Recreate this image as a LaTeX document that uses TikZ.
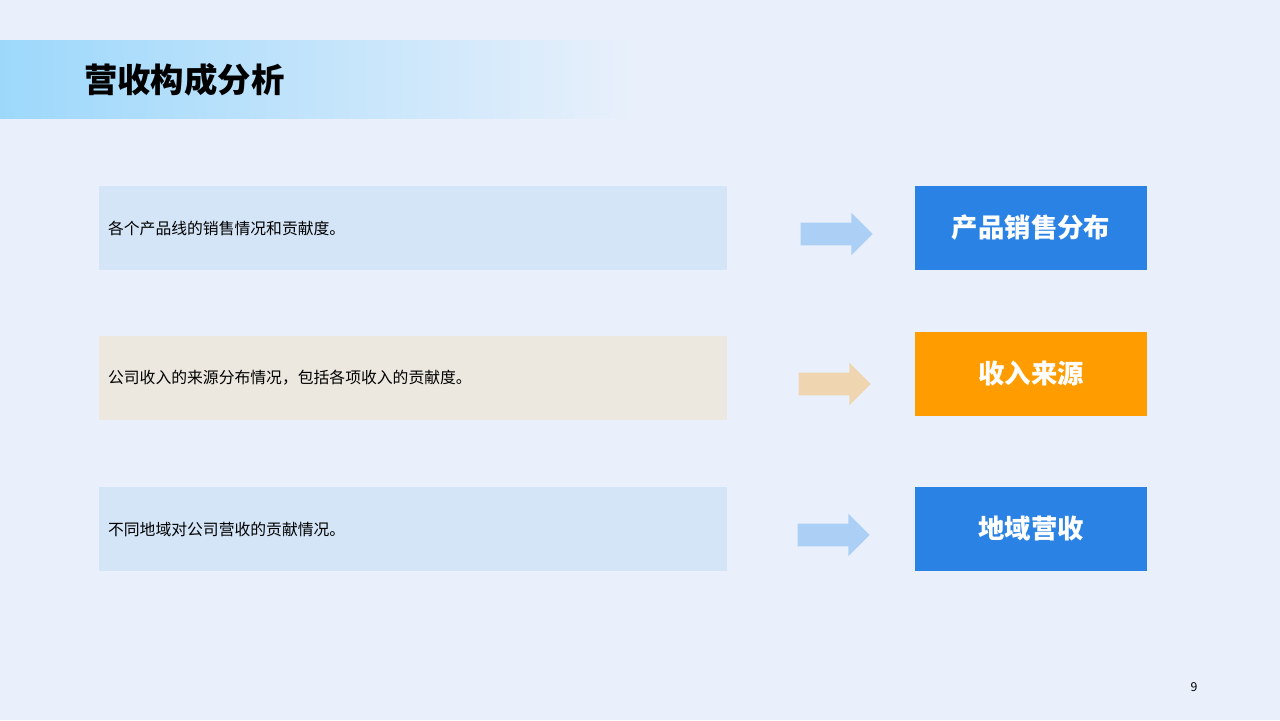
\documentclass[tikz,border=0pt]{standalone}
\usepackage{fontspec}
\setmainfont{Noto Sans CJK SC}
\usetikzlibrary{positioning, shapes.arrows}
\definecolor{bgcol}{HTML}{E9F0FB}
\definecolor{bandcol}{HTML}{9DD8FB}
\definecolor{paleblue}{HTML}{D4E5F7}
\definecolor{palesand}{HTML}{ECE8E0}
\definecolor{arrowblue}{HTML}{ACD0F5}
\definecolor{arrowsand}{HTML}{F0D6B0}
\definecolor{darkblue}{HTML}{2A82E4}
\definecolor{orangecol}{HTML}{FF9C00}

\begin{document}
\begin{tikzpicture}[x=0.02cm, y=-0.02cm]
    \tikzset{
        descbox/.style={
            rectangle,
            inner sep=0pt,
            minimum width=12.56cm,
            minimum height=1.68cm,
            text width=12.2cm,
            font=\fontsize{9}{11}\selectfont
        },
        tagbox/.style={
            rectangle,
            inner sep=0pt,
            minimum width=4.66cm,
            minimum height=1.68cm,
            text=white,
            font=\fontsize{15}{18}\selectfont\bfseries
        },
        flowarrow/.style={
            single arrow,
            inner sep=0.22cm,
            single arrow head extend=0.2cm,
            minimum height=1.44cm
        }
    }

    \fill[bgcol] (0,0) rectangle (1280,720);
    \shade[left color=bandcol, right color=bgcol] (0,40) rectangle (640,118);
    \node[anchor=west, font=\fontsize{19}{22}\selectfont\bfseries] (title) at (78,80) {营收构成分析};

    \node[descbox, fill=paleblue] (descA) at (413,228) {各个产品线的销售情况和贡献度。};
    \node[descbox, fill=palesand] (descB) at (413,378) {公司收入的来源分布情况，包括各项收入的贡献度。};
    \node[descbox, fill=paleblue] (descC) at (413,529) {不同地域对公司营收的贡献情况。};

    \node[flowarrow, fill=arrowblue] (arrowA) at (831,234) {};
    \node[flowarrow, fill=arrowsand] (arrowB) at (829,384) {};
    \node[flowarrow, fill=arrowblue] (arrowC) at (828,535) {};

    \node[tagbox, fill=darkblue] (tagA) at (1031,228) {产品销售分布};
    \node[tagbox, fill=orangecol] (tagB) at (1031,374) {收入来源};
    \node[tagbox, fill=darkblue] (tagC) at (1031,529) {地域营收};

    \node[font=\fontsize{7}{8}\selectfont] (pagenum) at (1194,687) {9};
\end{tikzpicture}
\end{document}
